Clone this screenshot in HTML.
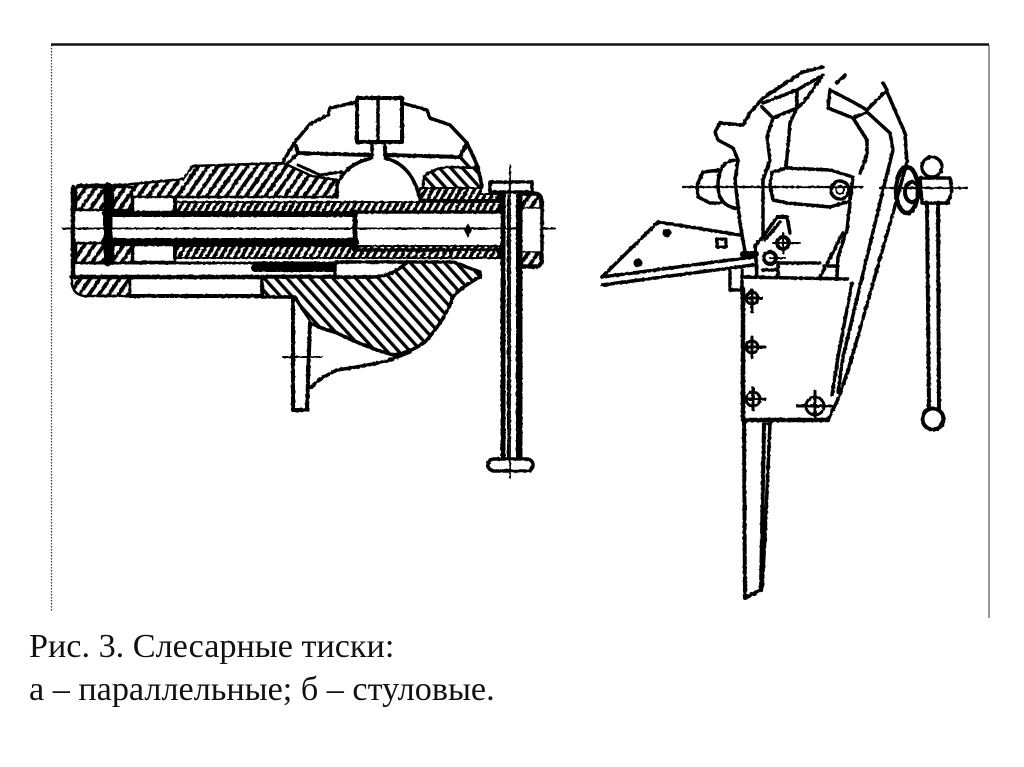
<!DOCTYPE html>
<html><head><meta charset="utf-8"><style>
html,body{margin:0;padding:0;background:#fff;width:1024px;height:767px;overflow:hidden}
svg{display:block}
text{font-family:"Liberation Serif","Noto Serif CJK SC",serif;font-size:34.200px;fill:#111}
</style></head><body>
<svg width="1024" height="767" viewBox="0 0 1024 767" xmlns="http://www.w3.org/2000/svg">
<defs>
<pattern id="h1" width="8" height="8" patternUnits="userSpaceOnUse" patternTransform="rotate(35)"><rect width="8" height="8" fill="#fff"/><rect width="3.800" height="8" fill="#000"/></pattern>
<pattern id="h2" width="8.500" height="8.500" patternUnits="userSpaceOnUse" patternTransform="rotate(-42)"><rect width="8.500" height="8.500" fill="#fff"/><rect width="3.300" height="8.500" fill="#000"/></pattern>
<pattern id="h3" width="6" height="6" patternUnits="userSpaceOnUse" patternTransform="rotate(30)"><rect width="6" height="6" fill="#fff"/><rect width="3.400" height="6" fill="#000"/></pattern>
<filter id="rough" x="-5%" y="-5%" width="110%" height="110%"><feTurbulence type="fractalNoise" baseFrequency="0.35" numOctaves="1" seed="4"/><feDisplacementMap in="SourceGraphic" scale="2.200"/></filter>
</defs>
<rect width="1024" height="767" fill="#fff"/>
<path d="M51 44.500H989" stroke="#111" stroke-width="2.500"/>
<path d="M51.500 45V612" stroke="#333" stroke-width="1.200" stroke-dasharray="1.500 1.500"/>
<path d="M989 45V618" stroke="#555" stroke-width="1.200"/>

<g fill="none" stroke="#000" stroke-width="3.500" stroke-linejoin="round" stroke-linecap="round" filter="url(#rough)">
<!-- LEFT VISE: hatched bands -->
<path fill="url(#h1)" stroke-width="2.500" d="M80 185H122L183 179L193 166L283 163L312 176L337 180V197H76V189Q76 185 80 185Z"/>
<path fill="url(#h3)" stroke-width="2" d="M175 202H500V212H175Z"/>
<path fill="url(#h3)" stroke-width="2" d="M175 246H500V258H175Z"/>
<path fill="url(#h1)" stroke-width="2.500" d="M72 277H130V296H84Q73 294 72 284Z"/>
<path fill="url(#h1)" stroke-width="2.500" d="M76 187H105V210H76Z"/>
<path fill="url(#h1)" stroke-width="2.500" d="M113 187H132V210H113Z"/>
<path fill="url(#h1)" stroke-width="2.500" d="M76 243H105V263H76Z"/>
<path fill="url(#h1)" stroke-width="2.500" d="M113 243H132V263H113Z"/>
<rect x="133" y="197" width="42" height="15" fill="#fff" stroke-width="2.500"/>
<rect x="133" y="245" width="42" height="17" fill="#fff" stroke-width="2.500"/>
<path d="M73 187V277" stroke-width="4.500"/>
<path d="M108 187V262" stroke-width="9"/>
<path d="M105 214H355" stroke-width="6"/>
<path d="M105 242H355" stroke-width="8"/>
<path d="M175 197V212M175 245V258" stroke-width="4"/>
<path d="M74 263H335" stroke-width="3"/>
<path d="M72 277H335" stroke-width="4.500"/>
<path d="M255 268H335" stroke-width="8"/>
<path d="M130 296H262" stroke-width="4"/>
<path d="M262 277V296H292" stroke-width="3.500"/>
<path d="M355 212V250" stroke-width="5"/>
<path d="M355 212H503M355 250H503" stroke-width="3.500"/>
<path d="M464 230L468 223L472 230L468 238Z" fill="#000" stroke="none"/>
<path d="M63 228.500H555" stroke-width="2"/>
<!-- big hatched body -->
<path fill="url(#h2)" stroke-width="3.500" d="M262 277H370Q392 277 407 262H453L480 272V277Q460 288 453 297Q445 320 425 342Q412 352 393 355Q365 347 337 333Q320 328 310 323L295 297H262Z"/>
<path d="M335 262H407Q392 277 372 277H335Z" fill="#fff" stroke-width="3.500"/>
<!-- leg -->
<path d="M293 298V410H307L310 323" stroke-width="4" fill="#fff"/>
<path d="M310 388Q320 378 337 370Q365 366 387 361L410 352" stroke-width="3.500"/>
<path d="M283 357H322" stroke-width="2"/>
<!-- dome -->
<path d="M282 163L295 142L310 124L328 115L330 108L357 102M402 103L427 110L430 118L450 125L467 143L478 167L482 185" stroke-width="3.500"/>
<rect x="357" y="98" width="45" height="44" fill="#fff" stroke-width="4"/>
<path d="M378 98V142" stroke-width="3.500"/>
<path d="M372 142V155M385 142V155" stroke-width="3.500"/>
<path d="M296 146L298 153L370 155M385 155L460 157L467 143" stroke-width="4"/>
<path d="M298 153L287 164M460 157L470 168L478 167" stroke-width="3.500"/>
<path d="M298 165L320 175L342 172" stroke-width="3"/>
<path d="M337 197V185Q345 164 372 158M385 158Q413 165 420 200" stroke-width="3.500"/>
<path fill="url(#h2)" stroke-width="2.500" d="M424 176Q435 168 447 167L477 168L482 188L422 198Z"/>
<path fill="url(#h3)" stroke-width="2" d="M420 200H500V194H480L482 188H420Z"/>
<path fill="url(#h3)" stroke-width="2" d="M450 258H500L497 250H450Z"/>
<!-- bar + head -->
<path d="M490 182H532V192H490Z" fill="#fff" stroke-width="3.500"/>
<path d="M520 193H535Q542 194 542 202V258Q542 267 535 267H520Z" fill="#fff" stroke-width="3.500"/>
<path d="M521 195H540V208H521ZM521 252H540V265H521Z" fill="url(#h1)" stroke-width="1.500"/>
<path d="M503 193V458M520 193V458" stroke-width="5" fill="#fff"/>
<path d="M508 195V458M517 195V458" stroke-width="2"/>
<rect x="488" y="459" width="45" height="12" rx="6" fill="#fff" stroke-width="3.500"/>
<path d="M510 165V478" stroke-width="1.800"/>

<!-- RIGHT VISE -->
<path d="M823 67L803 72L783 85L763 98L750 113L743 125L720 123L715 132L718 140L733 148L738 160L735 180L740 223L745 252"/>
<path d="M762 107L773 118M763 103L797 90L823 75L803 103L797 108L773 118"/>
<path d="M797 90V108"/>
<path d="M773 118L767 137L770 160L763 180V237"/>
<path d="M798 105L790 123L786 168"/>
<path d="M837 83L845 75"/>
<path d="M830 90L828 108L853 118L867 140L867 155L860 173M830 90L853 102L867 110L887 90L883 83"/>
<path d="M853 118L867 112"/>
<path d="M867 112L890 133L893 150L883 190L843 357M887 92L905 133L907 162L893 213L852 357"/>
<path d="M852 283L838 357L832 395M843 357L838 392M852 357L840 395L828 420"/>
<path d="M787 168L772 172L770 185L773 200L787 203L830 207L850 201L853 177L830 170Z" fill="#fff"/>
<circle cx="840" cy="190" r="9"/>
<circle cx="840" cy="190" r="4" stroke-width="2"/>
<path d="M720 170L703 172L697 185L698 197L710 203L720 203"/>
<path d="M735 160Q718 162 718 185Q718 205 735 208"/>
<path d="M683 187H863M880 188H967" stroke-width="2.200"/>
<ellipse cx="907" cy="190" rx="11" ry="23" stroke-width="4.500"/>
<ellipse cx="912" cy="192" rx="7" ry="10" stroke-width="4"/>
<path d="M920 178H950L952 190L948 203H922Z"/>
<circle cx="932" cy="167" r="10"/>
<path d="M927 203L929 408M938 203L939 408" stroke-width="4"/>
<circle cx="933" cy="419" r="10.500" fill="#fff" stroke-width="4"/>
<path d="M777 217L763 237L755 245L757 277M787 217L790 233M765 240L780 222"/>
<path d="M787 217L777 217" stroke-width="4"/>
<circle cx="783" cy="243" r="6" stroke-width="4"/>
<circle cx="770" cy="258" r="6" stroke-width="4"/>
<path d="M773 243H800M770 258H785M783 233V253" stroke-width="2"/>
<path d="M743 277L848 279M778 263H820M778 263V277M763 270H778"/>
<path d="M850 203L847 230L838 257L837 277M843 233L820 277M824 266L838 266"/>
<path d="M602 277L658 222L740 235"/>
<path d="M602 277L753 257M602 285L753 265"/>
<path d="M743 254H756" stroke-width="6"/>
<circle cx="667" cy="233" r="4.500" fill="#000" stroke="none"/>
<rect x="717" y="239" width="9" height="8" stroke-width="3"/>
<circle cx="638" cy="263" r="4.500" fill="#000" stroke="none"/>
<path d="M730 270V290H742V270"/>
<path d="M743 289V420H828" stroke-width="4.500"/>
<g stroke-width="3">
<circle cx="752" cy="298" r="6"/><path d="M752 290V312M745 298H762"/>
<circle cx="752" cy="347" r="6"/><path d="M752 337V358M745 347H765"/>
<circle cx="753" cy="399" r="7"/><path d="M753 388V410M745 399H765"/>
<circle cx="815" cy="406" r="9"/><path d="M815 391V420M797 406H832"/>
</g>
<path d="M744 420L745 598L761 590L764 424" stroke-width="4"/>
<path d="M770 423L765 537L762 590"/>
<path d="M763 424H770" stroke-width="2.500"/>
</g>
<text x="29" y="657">Рис. 3. Слесарные тиски:</text>
<text x="29" y="700">а – параллельные; б – стуловые.</text>
</svg>
</body></html>
